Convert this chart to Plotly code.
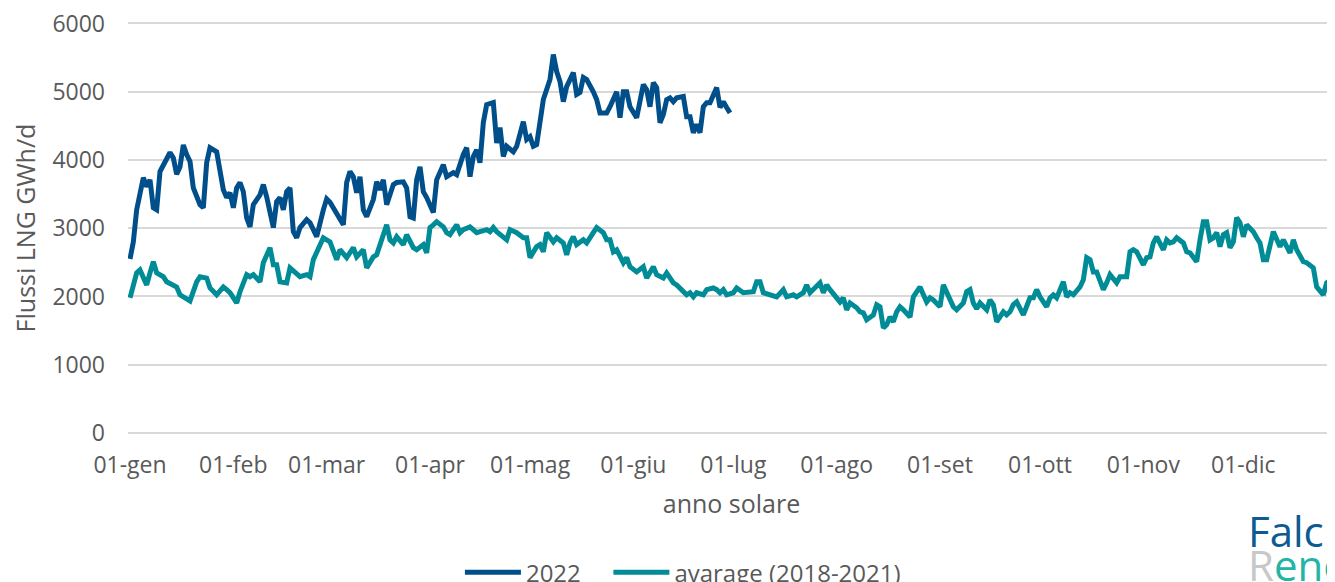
import pandas as pd
import plotly.graph_objects as go

# giorno dell'anno (0 = 1 gennaio) e flussi LNG in GWh/d
giorni_2022 = [
    0, 1, 2, 4, 5, 6, 7, 8, 9, 10, 12, 13, 14, 15, 16, 17, 18, 19, 21, 22, 23, 24, 25, 26, 28, 29,
    30, 31, 32, 33, 34, 35, 36, 37, 39, 40, 41, 43, 44, 45, 46, 47, 48, 49, 50, 51, 53, 54, 55, 56,
    58, 59, 60, 62, 64, 65, 66, 67, 68, 69, 70, 71, 73, 74, 75, 76, 77, 79, 80, 82, 83, 84, 85, 86,
    87, 88, 89, 91, 92, 94, 95, 97, 98, 100, 101, 102, 103, 104, 105, 106, 107, 109, 110, 111, 112,
    113, 115, 116, 118, 119, 120, 121, 122, 124, 125, 126, 127, 128, 129, 130, 131, 132, 133, 134,
    135, 136, 137, 139, 140, 141, 143, 144, 146, 147, 148, 149, 150, 152, 153, 154, 155, 156, 157,
    158, 159, 160, 161, 162, 163, 164, 166, 167, 168, 169, 170, 171, 172, 173, 174, 175, 176, 177,
    178, 179, 180,
]
flussi_2022 = [
    2550, 2800, 3270, 3740, 3610, 3710, 3300, 3270, 3830, 3930, 4110, 4030, 3790, 3900, 4220, 4080,
    3980, 3590, 3345, 3300, 3960, 4180, 4150, 4120, 3565, 3450,
    3520, 3300, 3590, 3670, 3535, 3150, 3020, 3345, 3490, 3640, 3460, 3010, 3390, 3450, 3270, 3535,
    3590, 2950, 2860, 3010, 3125, 3080, 2980, 2875,
    3270, 3430, 3380, 3230, 3050, 3670, 3830, 3755, 3520, 3755, 3270, 3170, 3420, 3680, 3565, 3710,
    3345, 3640, 3670, 3680, 3590, 3170, 3150, 3710,
    3900, 3535, 3450, 3230, 3710, 3930, 3755, 3815, 3785, 4080, 4180, 3755, 4050, 4150, 3960, 4550,
    4810, 4840, 4250, 4475, 4050,
    4200, 4120, 4200, 4560, 4300, 4340, 4200, 4225, 4885, 5030, 5180, 5545, 5295, 5150, 4855, 5075,
    5180, 5280, 4960,
    4990, 5210, 5180, 5000, 4885, 4690, 4690, 4780, 5000, 4620, 5000, 5000, 4780, 4620, 4910, 5105,
    5030, 4780, 5135,
    5060, 4545, 4665, 4885, 4910, 4855, 4910, 4930, 4635, 4635, 4400, 4520, 4400, 4780, 4840, 4840,
    4960, 5060, 4770,
    4855, 4770, 4690,
]

giorni_media = [
    0, 2, 3, 4, 5, 6, 7, 8, 10, 11, 13, 14, 15, 16, 18, 20, 21, 23, 24, 26, 28, 29, 30, 32, 33, 35,
    36, 37, 39, 40, 42, 43, 44, 45, 47, 48, 50, 51, 53, 54, 55, 56, 58, 60, 62, 63, 65, 67, 68, 70,
    71, 73, 74, 76, 77, 78, 79, 80, 82, 83, 85, 86, 88, 89, 90, 91, 92, 94, 95, 96, 98, 99, 100,
    102, 104, 105, 107, 108, 109, 110, 112, 113, 114, 116, 118, 119, 120, 122, 123, 124, 125, 127,
    128, 130, 131, 132, 133, 134, 136, 137, 139, 140, 142, 143, 144, 145, 146, 148, 149, 150, 152,
    153, 154, 155, 157, 158, 160, 161, 163, 164, 166, 167, 168, 169, 170, 172, 173, 175, 176, 177,
    178, 179, 181, 182, 184, 185, 187, 188, 189, 190, 192, 193, 194, 196, 197, 199, 200, 202, 203,
    204, 205, 207, 208, 209, 210, 212, 213, 214, 215, 216, 218, 219, 220, 221, 223, 224, 225, 226,
    227, 228, 229, 230, 231, 232, 234, 235, 236, 237, 239, 240, 241, 243, 244, 245, 247, 248, 250,
    251, 252, 253, 254, 255, 257, 258, 259, 260, 262, 263, 264, 265, 266, 268, 269, 270, 271, 272,
    273, 275, 276, 277, 278, 280, 281, 282, 283, 285, 286, 287, 288, 289, 290, 292, 293, 294, 296,
    297, 299, 300, 301, 302, 304, 305, 306, 307, 308, 310, 311, 312, 313, 314, 316, 317, 318, 320,
    321, 322, 323, 324, 325, 326, 327, 328, 329, 330, 331, 332, 333, 334, 335, 337, 338, 339, 340,
    341, 343, 344, 345, 346, 347, 348, 349, 350, 352, 353, 355, 356, 358, 359, 361, 362,
]
flussi_media = [
    1980, 2345, 2390, 2270, 2170, 2345, 2510, 2345, 2290, 2215, 2170, 2140, 2025, 1995, 1935, 2215,
    2290, 2270, 2125, 2025, 2140, 2100, 2055, 1905, 2070, 2320,
    2290, 2320, 2215, 2495, 2715, 2465, 2465, 2215, 2200, 2420, 2320, 2290, 2320, 2290, 2540, 2655,
    2860, 2800, 2540, 2685, 2570, 2715, 2580, 2685,
    2420, 2580, 2610, 2905, 3050, 2830, 2785, 2875, 2760, 2905, 2715, 2685, 2760, 2640, 3010, 3050,
    3095, 3020, 2935, 2905, 3050, 2935, 2980,
    3020, 2935, 2950, 2980, 2950, 3010, 2950, 2875, 2830, 2980, 2935, 2860, 2860, 2570, 2730, 2760,
    2655, 2935, 2800,
    2860, 2785, 2610, 2785, 2875, 2760, 2830, 2785, 2935, 3010, 2935, 2830, 2830, 2655, 2685, 2495,
    2570, 2435, 2360,
    2390, 2435, 2270, 2435, 2320, 2270, 2345, 2200, 2170, 2070, 2025, 2055, 1995, 2055, 2025, 2100,
    2125, 2100, 2055,
    2100, 2025, 2055, 2125, 2055, 2055, 2070, 2215, 2215, 2055, 2025, 2025, 1995, 2100, 1995, 2025,
    1995, 2055, 2170,
    2055, 2100, 2200, 2055, 2170, 2100, 1980, 1920, 1980, 1805, 1905, 1835, 1775, 1760, 1660, 1730,
    1880, 1850, 1540,
    1585, 1700, 1630, 1775, 1850, 1805, 1700, 1995, 2055, 2140, 1920, 1980, 1950, 1850, 2170, 2055,
    1850, 1805, 1905,
    2070, 2100, 1905, 1820, 1905, 1805, 1950, 1880, 1630, 1775, 1730, 1775, 1880, 1920, 1730, 1880,
    1980, 1980, 2100,
    1995, 1850, 1980, 2025, 1980, 2215, 1995, 2055, 2025, 2140, 2245, 2570, 2540, 2360, 2360, 2100,
    2200, 2320, 2200,
    2290, 2290, 2655, 2685, 2655, 2465, 2570, 2580, 2785, 2875, 2685, 2830, 2785, 2800, 2860, 2785,
    2655, 2640, 2510,
    2830, 3095, 3095, 2830, 2860, 2935, 2730, 2905, 2935, 2715, 2800, 3155, 3080, 2875, 3050, 2950,
    2860, 2785, 2540,
    2540, 2950, 2830, 2730, 2830, 2715, 2640, 2830, 2685, 2510, 2495, 2420, 2140, 2025, 2200, 2270,
    2320,
]

mesi = ["gen", "feb", "mar", "apr", "mag", "giu", "lug", "ago", "set", "ott", "nov", "dic"]

_BLU = "#004f8a"
_TEAL = "#008c96"
_GRIGIO = "#595959"
_FONT = "Open Sans"

inizio = pd.Timestamp("2022-01-01")


def to_date(giorni):
    return inizio + pd.to_timedelta(giorni, unit="D")


fig = go.Figure()
fig.add_trace(go.Scatter(
    x=to_date(giorni_2022), y=flussi_2022, name="2022", mode="lines",
    line=dict(color=_BLU, width=5), legend="legend",
))
fig.add_trace(go.Scatter(
    x=to_date(giorni_media), y=flussi_media, name="avarage (2018-2021)", mode="lines",
    line=dict(color=_TEAL, width=5), legend="legend2",
))

tick_date = pd.date_range("2022-01-01", periods=12, freq="MS")
fig.update_xaxes(
    range=["2021-12-31 09:36", "2022-12-28 12:00"],
    tickvals=tick_date,
    ticktext=["01-" + m for m in mesi],
    showgrid=False, zeroline=False, showline=False, automargin=False,
    ticklabelstandoff=13,
    tickfont=dict(size=23, color=_GRIGIO, family=_FONT),
    title=dict(text="anno solare", font=dict(size=25, color=_GRIGIO, family=_FONT), standoff=16),
)
fig.update_yaxes(
    range=[-44, 6051],
    tickvals=[0, 1000, 2000, 3000, 4000, 5000, 6000],
    showgrid=True, gridcolor="#d9d9d9", gridwidth=1.5,
    zeroline=False, showline=False, automargin=False,
    ticklabelstandoff=22, ticklabeloverflow="allow",
    tickfont=dict(size=23, color=_GRIGIO, family=_FONT),
    title=dict(text="Flussi LNG GWh/d", font=dict(size=25, color=_GRIGIO, family=_FONT), standoff=19),
)

# logo Falck Renewables in basso a destra
fig.add_annotation(
    text="Falck", xref="paper", yref="paper", x=0.9265, y=-0.228,
    xanchor="left", yanchor="middle", showarrow=False,
    font=dict(size=42, color="#0e5a93", family=_FONT),
)
fig.add_annotation(
    text="<span style='color:#c8c8c8'>R</span>enewables", xref="paper", yref="paper",
    x=0.9265, y=-0.31, xanchor="left", yanchor="middle", showarrow=False,
    font=dict(size=42, color="#22b4a6", family=_FONT),
)

legend_style = dict(
    orientation="h", xref="paper", xanchor="left",
    yref="container", y=0.03, yanchor="middle",
    font=dict(size=24, color=_GRIGIO, family=_FONT),
    itemwidth=56, bgcolor="rgba(0,0,0,0)",
)

# la pagina ha 8px di margine sul body: margini ridotti di conseguenza
fig.update_layout(
    width=1335, height=582,
    margin=dict(l=120, r=8, t=12, b=154),
    plot_bgcolor="white", paper_bgcolor="white",
    font=dict(family=_FONT, color=_GRIGIO),
    showlegend=True,
    legend=dict(x=0.275, **legend_style),
    legend2=dict(x=0.398, **legend_style),
)

fig.write_html("out.html")
